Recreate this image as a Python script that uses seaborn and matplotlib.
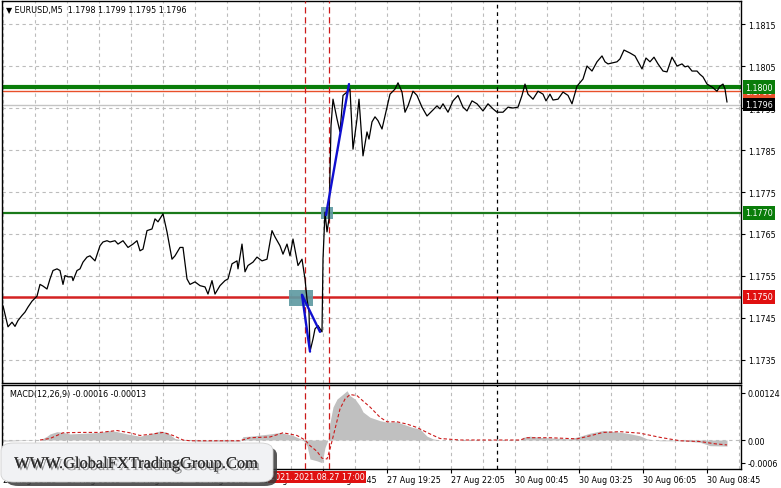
import numpy as np
import pandas as pd
import matplotlib
matplotlib.use("Agg")
import matplotlib.pyplot as plt
import seaborn as sns
from matplotlib.patches import FancyBboxPatch, Rectangle
from matplotlib.transforms import blended_transform_factory
import matplotlib.patheffects as pe

# ---------------- data ----------------
title_text = "\u25BC EURUSD,M5  1.1798 1.1799 1.1795 1.1796"
macd_text = "MACD(12,26,9) -0.00016 -0.00013"

# price close (x = M5 bar index from 27 Aug 03:25)
bar_idx = [0, 2.5, 4.5, 6, 7.5, 9.5, 11, 12.5, 14.5, 17, 18.5, 20, 22, 23.5, 25, 27, 28.5, 30, 31,
           32.5, 34.5, 35, 37, 38.5, 40, 42, 43.5, 46, 48.5, 50, 52, 53.5, 56, 57.5, 60, 62.5, 65,
           67, 68.5, 70, 72, 74.5, 76, 77.5, 80, 82, 84.5, 86, 88.5, 90, 92, 93.5, 96, 98.5, 101,
           102.5, 104.5, 106, 108.5, 111, 112.5, 114.5, 117, 117.5, 119.5, 121, 122.5, 125, 127,
           129.5, 132, 134.5, 136, 138.5, 140, 142, 143.5, 145, 147.5, 149.5, 151, 152, 153,
           153.5, 155, 156, 157.5, 159.5, 160, 161, 162, 163, 164, 165, 167, 168.5, 170, 172,
           173.5, 175, 177, 178, 180, 182, 183, 184.5, 186, 187.5, 189.5, 191,
           193.5, 196, 197.5, 199.5, 201, 202.5, 205, 207, 209.5, 212, 214.5, 217, 218.5, 220,
           222.5, 225, 227.5, 230, 232, 234.5, 237, 240, 242.5, 245, 247, 250, 252.5, 255, 257.5,
           259.5, 261, 262.5, 265, 267.5, 270, 271.5, 273.5, 275, 277.5, 280, 282.5, 284.5, 287,
           290, 292, 294.5, 297, 299.5, 301, 302.5, 307, 308.5, 310.5, 313.5, 316, 319.5, 321.5,
           323.5, 325.5, 327.5, 330, 332, 334.5, 337, 339.5, 341, 342.5, 344.5, 347, 348.5, 350,
           352, 354.5, 357, 358.5, 360, 361, 362]
close = [1.17479, 1.17429, 1.17440, 1.17430, 1.17444, 1.17456, 1.17464, 1.17476, 1.17490, 1.17502,
         1.17530, 1.17526, 1.17519, 1.17543, 1.17563, 1.17567, 1.17563, 1.17530, 1.17551, 1.17548,
         1.17548, 1.17539, 1.17563, 1.17567, 1.17583, 1.17595, 1.17598, 1.17586, 1.17622, 1.17631,
         1.17634, 1.17631, 1.17634, 1.17626, 1.17634, 1.17618, 1.17626, 1.17634, 1.17610, 1.17614,
         1.17658, 1.17662, 1.17686, 1.17679, 1.17698, 1.17655, 1.17590, 1.17598, 1.17618, 1.17618,
         1.17543, 1.17530, 1.17536, 1.17527, 1.17524, 1.17507, 1.17539, 1.17507, 1.17527, 1.17539,
         1.17543, 1.17579, 1.17586, 1.17567, 1.17626, 1.17560, 1.17575, 1.17583, 1.17595, 1.17586,
         1.17590, 1.17658, 1.17643, 1.17622, 1.17602, 1.17626, 1.17598, 1.17638, 1.17575, 1.17590,
         1.17543, 1.17495, 1.17464, 1.17370, 1.17400, 1.17424, 1.17432, 1.17417, 1.17590, 1.17702,
         1.17655, 1.17686, 1.17907, 1.17971, 1.17924, 1.17893, 1.17980, 1.17988, 1.17995, 1.17852,
         1.17924, 1.17971, 1.17836, 1.17893, 1.17876, 1.17917, 1.17929, 1.17920, 1.17900, 1.17931,
         1.17983, 1.17995, 1.18010, 1.17988, 1.17940, 1.17955, 1.17990, 1.17980, 1.17952, 1.17931,
         1.17943, 1.17955, 1.17948, 1.17960, 1.17940, 1.17967, 1.17980, 1.17952, 1.17943, 1.17967,
         1.17960, 1.17943, 1.17960, 1.17948, 1.17940, 1.17940, 1.17952, 1.17950, 1.17952, 1.17980,
         1.18007, 1.17983, 1.17971, 1.17990, 1.17983, 1.17967, 1.17983, 1.17969, 1.17971, 1.17988,
         1.17980, 1.17960, 1.18002, 1.18019, 1.18050, 1.18038, 1.18060, 1.18074, 1.18060, 1.18055,
         1.18060, 1.18067, 1.18088, 1.18081, 1.18074, 1.18043, 1.18069, 1.18060, 1.18071, 1.18055,
         1.18038, 1.18036, 1.18071, 1.18050, 1.18055, 1.18048, 1.18050, 1.18038, 1.18038, 1.18030,
         1.18024, 1.18007, 1.18000, 1.17990, 1.18002, 1.18007, 1.17995, 1.17964]

# MACD histogram
hist_bar = [0, 18.5, 22, 23.5, 27, 30, 33.5, 41, 48.5, 53.5, 57, 62, 68.5, 73.5, 78.5, 82, 86, 90,
            98.5, 118.5, 120, 123.5, 133.5, 138.5, 145, 150, 152, 153.5, 157, 159.5, 161, 162.5,
            163.5, 165, 167, 170, 172, 173.5, 176, 178.5, 180, 183.5, 188.5, 192, 197, 200, 205,
            208.5, 212, 215, 218.5, 258.5, 260, 263.5, 268.5, 283.5, 288.5, 293.5, 300, 306, 312,
            318.5, 322, 328.5, 338.5, 348.5, 353.5, 362]
hist_val = [-0.00003, 0.0, 0.0001, 0.00016, 0.00022, 0.0002, 0.00016, 0.00018, 0.0002, 0.00025,
            0.00022, 0.00016, 0.0001, 0.00016, 0.00024, 0.0002, 0.00004, 0.0, -0.00003, -0.00003,
            0.00009, 0.0001, 0.00016, 0.0002, 0.00012, 0.0, -0.00015, -0.0005, -0.00055, -0.0006,
            -0.0002, 0.0, 0.00047, 0.00087, 0.00108, 0.00121, 0.0013, 0.00117, 0.00108, 0.0009,
            0.00074, 0.0006, 0.00051, 0.00047, 0.00048, 0.00042, 0.00033, 0.00029, 0.0001, 0.00003,
            0.0, 0.0, 0.00007, 0.0001, 0.00007, 0.00003, 0.0001, 0.00018, 0.00025, 0.00022, 0.00018,
            0.00011, 0.00003, -0.00002, -0.00002, -0.00006, -0.00015, -0.00016]

# MACD signal line
sig_bar = [18.5, 23.5, 30, 38.5, 48.5, 57, 63.5, 68.5, 75, 80, 85, 90, 93.5, 118.5, 123.5, 133.5,
           140, 147, 151, 153.5, 157, 159.5, 162, 163.5, 166, 168.5, 171, 173.5, 177, 180, 183.5,
           188.5, 192, 197, 202, 207, 213.5, 218.5, 228.5, 258.5, 262, 273.5, 287, 293.5, 300,
           308.5, 318.5, 328.5, 338.5, 348.5, 356, 362]
sig_val = [0.0, 0.00004, 0.00019, 0.0002, 0.0002, 0.00025, 0.00019, 0.00012, 0.00016, 0.0002,
           0.00012, 0.0, -0.00002, -0.00002, 0.00006, 0.00008, 0.00019, 0.00012, 0.0, -0.00015,
           -0.0003, -0.00048, -0.0005, -0.00024, 0.00029, 0.00082, 0.00108, 0.0012, 0.00117,
           0.00103, 0.00087, 0.0006, 0.00048, 0.00048, 0.00042, 0.00033, 0.00016, 0.00004, 0.0,
           0.0, 0.00006, 0.00006, 0.00003, 0.00011, 0.0002, 0.00022, 0.00018, 0.00007, -0.00002,
           -0.00004, -0.0001, -0.00013]

# levels and markers
level_green_thick = 1.1800
level_green = 1.1770
level_red = 1.1750
ask_price = 1.17990
bid_price = 1.17958
trade_bars = [[149.5, 153.5], [149.5, 158.5], [161.5, 173]]
trade_prices = [[1.17505, 1.17370], [1.17505, 1.17417], [1.17695, 1.18007]]
zone_bars = [(143, 155), (159, 165)]
zone_prices = [(1.17479, 1.17517), (1.17686, 1.17714)]
event_bars = [151, 163]
event_labels = ["2021.08.27 16:00", "2021.08.27 17:00"]
day_sep_bar = 247

price_ticks = [1.1735, 1.1745, 1.1755, 1.1765, 1.1775, 1.1785, 1.1795, 1.1805, 1.1815]
macd_ticks = [-0.0006, 0.0, 0.00124]
macd_tick_labels = ["-0.0006", "0.00", "0.00124"]
time_tick_bars = [0, 32, 64, 96, 128, 160, 192, 224, 256, 288, 320, 352]
time_tick_labels = ["27 Aug 03:25", "27 Aug 06:05", "27 Aug 08:45", "27 Aug 11:25",
                    "27 Aug 14:05", "27 Aug 16:45", "27 Aug 19:25", "27 Aug 22:05",
                    "30 Aug 00:45", "30 Aug 03:25", "30 Aug 06:05", "30 Aug 08:45"]
grid_bars = list(range(0, 369, 16))

# ---------------- figure ----------------
sns.set_theme(style="white")
plt.rcParams["font.family"] = ["DejaVu Sans"]
W, H = 781, 489
fig = plt.figure(figsize=(W / 100, H / 100), dpi=100)
fig.patch.set_facecolor("white")
ax = fig.add_axes([2 / W, 1 - 384 / H, 739 / W, 382 / H])
axm = fig.add_axes([2 / W, 1 - 470 / H, 739 / W, 84 / H], sharex=ax)

FS = 5.8
grid_kw = dict(color="#bcbcbc", lw=0.8, ls=(0, (3, 3)), zorder=0)

for a in (ax, axm):
    a.set_facecolor("white")
    for s in a.spines.values():
        s.set_color("black")
        s.set_linewidth(1.0)
    for gb in grid_bars:
        a.axvline(gb, **grid_kw)
    for eb in event_bars:
        a.axvline(eb, color="#cc1a1a", lw=0.9, ls=(0, (5, 3)), zorder=3)
    a.axvline(day_sep_bar, color="black", lw=0.9, ls=(0, (3, 3)), zorder=3)

ax.set_xlim(-0.5, 369)
ax.set_ylim(1.172952, 1.182048)
for pt in price_ticks:
    ax.axhline(pt, **grid_kw)

# horizontal levels
ax.axhline(bid_price, color="#c4c4c4", lw=1.0, zorder=2)
ax.axhline(ask_price, color="#e8502a", lw=1.0, zorder=2)
ax.axhline(level_green_thick, color="#0a7d0a", lw=3.0, zorder=2)
ax.axhline(level_green, color="#1a7a1a", lw=1.6, zorder=2)
ax.axhline(level_red, color="#d42222", lw=1.8, zorder=2)

# zones
for (b0, b1), (p0, p1) in zip(zone_bars, zone_prices):
    ax.add_patch(Rectangle((b0, p0), b1 - b0, p1 - p0, facecolor="#5f9aa2",
                           edgecolor="none", alpha=0.92, zorder=3))

# price line
df = pd.DataFrame({"bar": bar_idx, "close": close})
sns.lineplot(data=df, x="bar", y="close", ax=ax, color="black", lw=0.9,
             estimator=None, sort=False, zorder=5)

# trade lines
for tb, tp in zip(trade_bars, trade_prices):
    ax.plot(tb, tp, color="#1010d0", lw=1.7, zorder=6, solid_capstyle="round")

ax.set_xlabel("")
ax.set_ylabel("")
ax.yaxis.tick_right()
ax.set_yticks(price_ticks)
ax.set_yticklabels([f"{v:.4f}" for v in price_ticks])
ax.tick_params(axis="y", labelsize=FS, length=3, width=0.8, pad=2, colors="black", direction="out")
ax.tick_params(axis="x", bottom=False, labelbottom=False)

fig.text(6 / W, 1 - 10 / H, title_text, fontsize=FS, color="black", va="center", ha="left")

# right side price boxes
trans = blended_transform_factory(fig.transFigure, ax.transData)
boxes = [(ask_price, "1.1799", "#e8502a", "white"),
         (level_green_thick, "1.1800", "#0a7d0a", "white"),
         (bid_price, "1.1796", "black", "white"),
         (level_green, "1.1770", "#0a7d0a", "white"),
         (level_red, "1.1750", "#e01010", "white")]
for val, lab, fc, tc in boxes:
    ax.text(745 / W, val, lab, transform=trans, fontsize=FS, color=tc, va="center",
            ha="left", clip_on=False, zorder=10,
            bbox=dict(boxstyle="square,pad=0.25", fc=fc, ec="none"))

# MACD panel
axm.set_ylim(-0.000765, 0.001451)
axm.axhline(0, **grid_kw)
axm.fill_between(hist_bar, 0, hist_val, color="#c0c0c0", lw=0, zorder=2)
dfs = pd.DataFrame({"bar": sig_bar, "sig": sig_val})
sns.lineplot(data=dfs, x="bar", y="sig", ax=axm, color="#cc1a1a", lw=0.8,
             estimator=None, sort=False, zorder=4, linestyle=(0, (3, 2)))
axm.set_xlabel("")
axm.set_ylabel("")
axm.yaxis.tick_right()
axm.set_yticks(macd_ticks)
axm.set_yticklabels(macd_tick_labels)
axm.tick_params(axis="y", labelsize=FS, length=3, width=0.8, pad=2, colors="black", direction="out")
axm.set_xticks(time_tick_bars)
axm.set_xticklabels(time_tick_labels)
axm.tick_params(axis="x", labelsize=FS, length=3, width=0.8, pad=1.5, colors="black",
                direction="out", bottom=True)
for lbl in axm.get_xticklabels():
    lbl.set_ha("left")
axm.text(8 / 739, 1 - 9 / 84, macd_text, transform=axm.transAxes, fontsize=FS,
         color="black", va="center", ha="left")

# event labels on time axis
transx = blended_transform_factory(axm.transData, fig.transFigure)
for eb, el in zip(event_bars, event_labels):
    axm.text(eb, 1 - 478 / H, el, transform=transx, fontsize=FS, color="white",
             ha="center", va="center", clip_on=False, zorder=10,
             bbox=dict(boxstyle="square,pad=0.2", fc="#e01010", ec="none"))

# watermark
shadow = FancyBboxPatch((6 / W, 2 / H), 271 / W, 39 / H,
                        boxstyle="round,pad=0,rounding_size=0.016",
                        transform=fig.transFigure, fc="#3a3a3a", ec="none", alpha=0.85,
                        zorder=20)
box = FancyBboxPatch((1 / W, 6 / H), 272 / W, 39 / H,
                     boxstyle="round,pad=0,rounding_size=0.016",
                     transform=fig.transFigure, fc="#f1f2f4", ec="#d0d0d0", lw=0.6,
                     zorder=21)
fig.patches.extend([shadow, box])
fig.text(136 / W, 1 - 465 / H, "WWW.GlobalFXTradingGroup.Com", fontsize=11.8,
         family=["Liberation Serif", "DejaVu Serif"], color="#2e2e2e",
         ha="center", va="center", zorder=22,
         path_effects=[pe.withSimplePatchShadow(offset=(1.5, -1.5), shadow_rgbFace="#555555",
                                                alpha=0.6), pe.Normal()])

fig.savefig("out.png", dpi=100, facecolor="white")
